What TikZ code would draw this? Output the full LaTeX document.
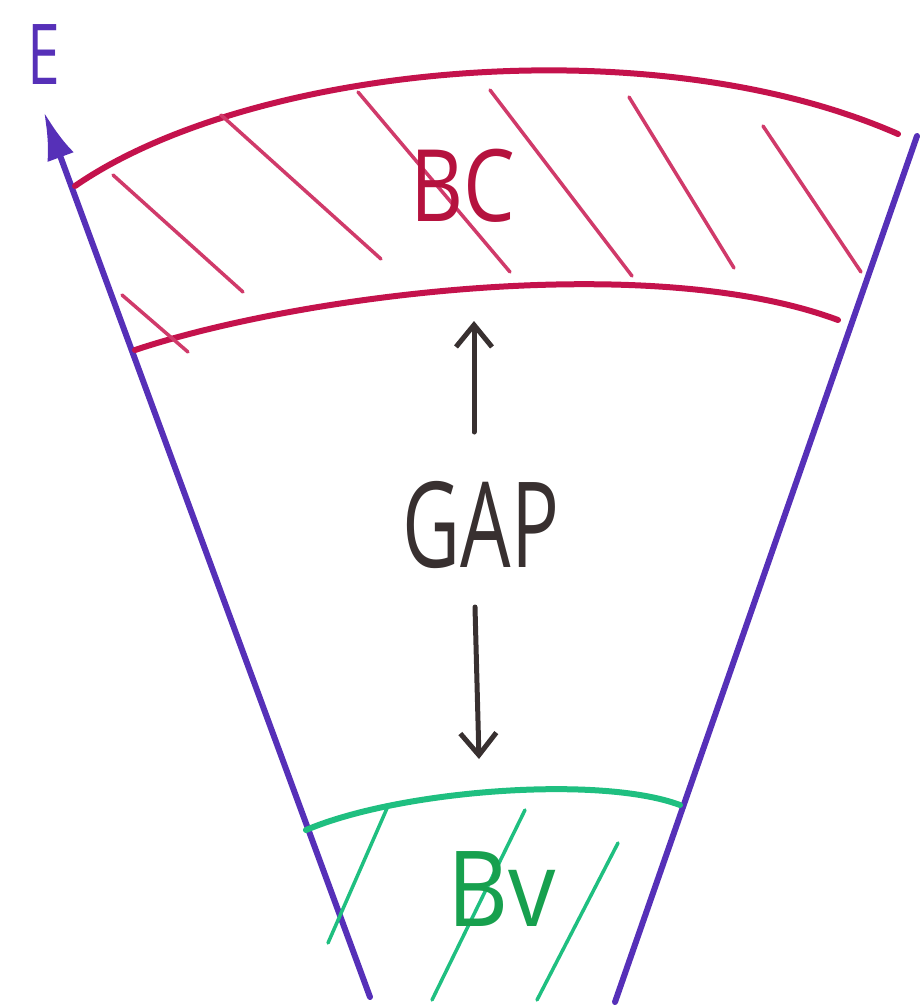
\documentclass[tikz,border=0pt]{standalone}
\usepackage{fontspec}
\setmainfont{Open Sans}
\usetikzlibrary{arrows.meta}
\definecolor{axis}{HTML}{5630B8}
\definecolor{band}{HTML}{C4124C}
\definecolor{hatchred}{HTML}{D03A6A}
\definecolor{bctext}{HTML}{B5123E}
\definecolor{vgreen}{HTML}{1FBF80}
\definecolor{vtext}{HTML}{17A04E}
\definecolor{gaptext}{HTML}{383030}
\tikzset{
  axisline/.style={draw=axis, line width=6pt, line cap=round},
  bandline/.style={draw=band, line width=6pt, line cap=round},
  hatchline/.style={draw=hatchred, line width=3.5pt, line cap=round},
  greenline/.style={draw=vgreen, line width=6pt, line cap=round},
  greenhatch/.style={draw=vgreen, line width=3.5pt, line cap=round},
  gaparrow/.style={draw=gaptext, line width=5pt, line cap=round, -{Straight Barb[length=22pt,width=36pt,line width=5pt]}},
  label/.style={inner sep=0pt}
}
\begin{document}
\begin{tikzpicture}[x=1pt,y=-1pt]
\useasboundingbox (0,0) rectangle (919,1007);
% axes
\coordinate (L0) at (370,997);
\coordinate (L1) at (44,112);
\coordinate (R0) at (615,1002);
\coordinate (R1) at (917,136);
\draw[axisline, -{Latex[length=48pt,width=28pt]}] (L0) -- (L1);
\draw[axisline] (R0) -- (R1);
\node[label, text=axis] (E) at (44,55) {\scalebox{0.7}[1]{\fontsize{84}{84}\selectfont E}};
% conduction band
\draw[bandline] (75,186) .. controls (250,65) and (650,25) .. (898,134);
\draw[bandline] (135,350) .. controls (300,295) and (650,250) .. (838,320);
\draw[hatchline] (113,175) -- (243,292);
\draw[hatchline] (221,115) -- (381,259);
\draw[hatchline] (358,92) -- (510,272);
\draw[hatchline] (490,90) -- (632,276);
\draw[hatchline] (629,97) -- (734,268);
\draw[hatchline] (763,126) -- (861,272);
\draw[hatchline] (122,295) -- (188,352);
\node[label, text=bctext] (BC) at (463,186) {\scalebox{0.82}[1]{\fontsize{100}{100}\selectfont BC}};
% gap
\node[label, text=gaptext] (GAP) at (481,525) {\scalebox{0.67}[1]{\fontsize{119}{119}\selectfont GAP}};
\coordinate (up0) at (474,432);
\coordinate (up1) at (474,321);
\coordinate (dn0) at (475,607);
\coordinate (dn1) at (479,759);
\draw[gaparrow] (up0) -- (up1);
\draw[gaparrow] (dn0) -- (dn1);
% valence band
\draw[greenline] (306,830) .. controls (400,790) and (600,775) .. (680,805);
\draw[greenhatch] (388,806) -- (328,943);
\draw[greenhatch] (525,810) -- (432,1000);
\draw[greenhatch] (618,843) -- (537,1000);
\node[label, text=vtext] (BV) at (502,889) {\scalebox{0.9}[1]{\fontsize{105}{105}\selectfont Bv}};
\end{tikzpicture}
\end{document}
